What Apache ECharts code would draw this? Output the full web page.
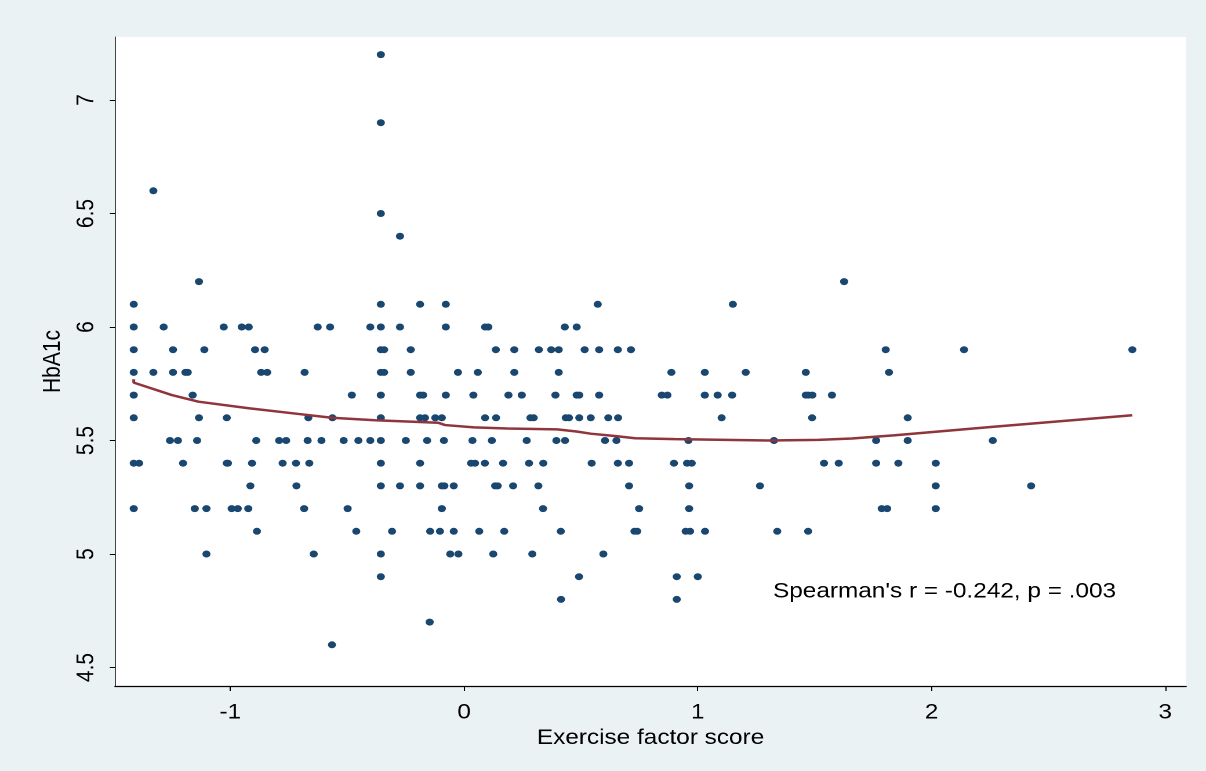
<!DOCTYPE html>
<html>
<head>
<meta charset="utf-8">
<title>HbA1c vs exercise factor score</title>
<script src="https://cdn.jsdelivr.net/npm/echarts@6/dist/echarts.min.js"></script>
<style>
  html, body { margin: 0; padding: 0; background: #eaf2f3; overflow: hidden; }
  /* the original export is stretched sideways a bit, so draw narrow and stretch */
  #chart { width: 1040px; height: 771px; transform: scaleX(1.1596); transform-origin: 0 0; }
</style>
</head>
<body>
<div id="chart"></div>
<script>
  // HbA1c levels (y) and the exercise scores (x) seen at each level
  const hba1cLevels = [7.2, 6.9, 6.6, 6.5, 6.4, 6.2, 6.1, 6.0, 5.9, 5.8, 5.7, 5.6, 5.5, 5.4, 5.3, 5.2, 5.1, 5.0, 4.9, 4.8, 4.7, 4.6];
  const exerciseScores = [
    [-0.356],
    [-0.356],
    [-1.329],
    [-0.356],
    [-0.274],
    [-1.134, 1.626],
    [-1.413, -0.356, -0.188, -0.078, 0.572, 1.150],
    [-1.413, -1.285, -1.028, -0.951, -0.921, -0.626, -0.573, -0.401, -0.356, -0.274, -0.078, 0.090, 0.104, 0.431, 0.482],
    [-1.413, -1.245, -1.111, -0.894, -0.853, -0.356, -0.342, -0.228, 0.136, 0.215, 0.320, 0.373, 0.405, 0.516, 0.578, 0.658, 0.714, 1.804, 2.139, 2.859],
    [-1.413, -1.329, -1.245, -1.192, -1.182, -0.868, -0.842, -0.682, -0.356, -0.342, -0.228, -0.026, 0.059, 0.215, 0.405, 0.887, 1.030, 1.205, 1.462, 1.818],
    [-1.413, -1.161, -0.480, -0.356, -0.188, -0.175, -0.078, 0.040, 0.190, 0.247, 0.391, 0.482, 0.493, 0.578, 0.846, 0.870, 1.030, 1.085, 1.147, 1.462, 1.473, 1.490, 1.574],
    [-1.413, -1.134, -1.015, -0.666, -0.563, -0.356, -0.188, -0.167, -0.123, -0.095, 0.090, 0.137, 0.284, 0.298, 0.435, 0.449, 0.493, 0.542, 0.617, 0.659, 1.102, 1.489, 1.898],
    [-1.258, -1.224, -1.142, -0.889, -0.791, -0.761, -0.669, -0.610, -0.515, -0.452, -0.401, -0.356, -0.249, -0.158, -0.086, 0.036, 0.119, 0.268, 0.395, 0.432, 0.603, 0.652, 0.960, 1.326, 1.763, 1.898, 2.262],
    [-1.413, -1.390, -1.202, -1.015, -1.010, -0.907, -0.776, -0.719, -0.662, -0.356, -0.188, 0.030, 0.047, 0.089, 0.167, 0.278, 0.339, 0.546, 0.658, 0.706, 0.898, 0.954, 0.974, 1.540, 1.603, 1.763, 1.858, 2.018],
    [-0.914, -0.717, -0.356, -0.274, -0.188, -0.095, -0.084, -0.044, 0.133, 0.144, 0.210, 0.318, 0.706, 0.963, 1.266, 2.018, 2.426],
    [-1.413, -1.152, -1.102, -0.994, -0.968, -0.923, -0.684, -0.498, -0.095, 0.338, 0.749, 0.963, 1.787, 1.810, 2.018],
    [-0.886, -0.461, -0.308, -0.145, -0.103, -0.044, 0.065, 0.172, 0.414, 0.729, 0.741, 0.948, 0.967, 1.031, 1.340, 1.472],
    [-1.102, -0.643, -0.356, -0.059, -0.024, 0.125, 0.292, 0.596],
    [-0.356, 0.492, 0.910, 1.000],
    [0.415, 0.910],
    [-0.147],
    [-0.565]
  ];

  // lowess smooth
  const lowessX = [-1.413, -1.413, -1.250, -1.136, -0.921, -0.709, -0.566, -0.381, -0.110, -0.081, 0.043, 0.185, 0.399, 0.485, 0.542, 0.645, 0.732, 0.903, 1.302, 1.516, 1.659, 1.844, 2.272, 2.859];
  const lowessY = [5.770, 5.755, 5.700, 5.671, 5.642, 5.617, 5.600, 5.589, 5.578, 5.568, 5.558, 5.553, 5.549, 5.539, 5.530, 5.520, 5.510, 5.506, 5.500, 5.503, 5.509, 5.523, 5.561, 5.611];

  const xTicks = [-1, 0, 1, 2, 3];
  const yTicks = [4.5, 5, 5.5, 6, 6.5, 7];
  const statText = "Spearman's r = -0.242, p = .003";

  const points = [];
  hba1cLevels.forEach(function (lvl, i) {
    exerciseScores[i].forEach(function (x) { points.push([x, lvl]); });
  });
  const lowess = lowessX.map(function (x, i) { return [x, lowessY[i]]; });

  const font = 'Liberation Sans, Arial, sans-serif';
  const chart = echarts.init(document.getElementById('chart'), null, { devicePixelRatio: 2 });

  chart.setOption({
    backgroundColor: '#eaf2f3',
    animation: false,
    textStyle: { fontFamily: font },
    grid: {
      left: 99.2, right: 17.2, top: 37, bottom: 85,
      show: true, backgroundColor: '#ffffff', borderWidth: 0
    },
    xAxis: {
      type: 'value',
      min: -1.4930, max: 3.0888,
      name: 'Exercise factor score',
      nameLocation: 'middle',
      nameGap: 38,
      nameTextStyle: { color: '#000', fontSize: 21, fontFamily: font },
      axisLine: { show: true, onZero: false, lineStyle: { color: '#000', width: 1.3 } },
      axisTick: { show: true, length: 5, customValues: xTicks, lineStyle: { color: '#000' } },
      axisLabel: { customValues: xTicks, margin: 16, color: '#000', fontSize: 21, fontFamily: font },
      splitLine: { show: false }
    },
    yAxis: {
      type: 'value',
      min: 4.4185, max: 7.2775,
      name: 'HbA1c',
      nameLocation: 'middle',
      nameGap: 42,
      nameTextStyle: { color: '#000', fontSize: 21, fontFamily: font },
      axisLine: { show: true, onZero: false, lineStyle: { color: '#444', width: 1 } },
      axisTick: { show: true, length: 4.5, customValues: yTicks, lineStyle: { color: '#000' } },
      axisLabel: { customValues: yTicks, rotate: 90, margin: 14, color: '#000', fontSize: 21, fontFamily: font },
      splitLine: { show: false }
    },
    graphic: [{
      type: 'text',
      left: 666.6,
      top: 581,
      style: { text: statText, fill: '#000', font: '21px ' + font }
    }],
    series: [
      {
        name: 'HbA1c',
        type: 'scatter',
        data: points,
        symbol: 'circle',
        symbolSize: 7,
        itemStyle: { color: '#1a476f', opacity: 1 },
        z: 2
      },
      {
        name: 'lowess',
        type: 'line',
        data: lowess,
        showSymbol: false,
        smooth: false,
        lineStyle: { color: '#90353b', width: 2.5 },
        z: 3
      }
    ]
  });
</script>
</body>
</html>
